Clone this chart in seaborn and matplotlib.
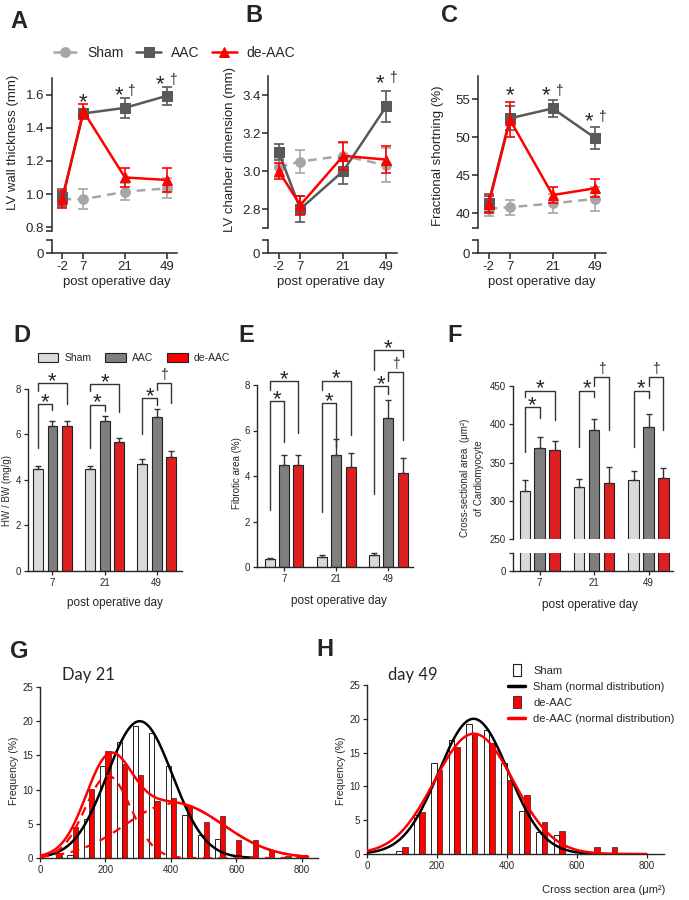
import numpy as np
import pandas as pd
import matplotlib
matplotlib.use("Agg")
import matplotlib.pyplot as plt
import seaborn as sns
from matplotlib.lines import Line2D
from matplotlib.patches import Patch

sns.set_style("ticks")
plt.rcParams["font.family"] = ["Liberation Sans", "DejaVu Sans"]
plt.rcParams["axes.linewidth"] = 1.0

# ---------------- data: echocardiography (A-C) ----------------
echo_days = ["-2", "7", "21", "49"]

wall_sham = [0.97, 0.968, 1.014, 1.034]
wall_sham_err = [0.05, 0.06, 0.05, 0.06]
wall_aac = [0.98, 1.486, 1.52, 1.592]
wall_aac_err = [0.05, 0.03, 0.06, 0.055]
wall_de = [0.968, 1.50, 1.10, 1.085]
wall_de_err = [0.05, 0.045, 0.06, 0.07]

ch_sham = [3.02, 3.05, 3.08, 3.03]
ch_sham_err = [0.05, 0.06, 0.07, 0.09]
ch_aac = [3.10, 2.80, 3.00, 3.34]
ch_aac_err = [0.04, 0.07, 0.07, 0.08]
ch_de = [3.00, 2.82, 3.08, 3.06]
ch_de_err = [0.04, 0.05, 0.075, 0.07]

fs_sham = [40.6, 40.8, 41.3, 41.9]
fs_sham_err = [0.9, 1.0, 1.2, 1.6]
fs_aac = [41.4, 52.5, 53.8, 49.9]
fs_aac_err = [1.2, 1.6, 1.1, 1.4]
fs_de = [41.2, 52.3, 42.4, 43.3]
fs_de_err = [1.1, 2.3, 1.0, 1.2]

# ---------------- data: bar panels (D-F) ----------------
bar_days = ["7", "21", "49"]
groups = ["Sham", "AAC", "de-AAC"]

hwbw_sham = [4.46, 4.47, 4.68]
hwbw_sham_err = [0.17, 0.16, 0.22]
hwbw_aac = [6.36, 6.57, 6.76]
hwbw_aac_err = [0.25, 0.25, 0.38]
hwbw_de = [6.35, 5.66, 5.01]
hwbw_de_err = [0.24, 0.20, 0.25]

fib_sham = [0.35, 0.45, 0.53]
fib_sham_err = [0.03, 0.07, 0.10]
fib_aac = [4.48, 4.92, 6.53]
fib_aac_err = [0.44, 0.69, 0.80]
fib_de = [4.48, 4.40, 4.13]
fib_de_err = [0.43, 0.60, 0.67]

csa_sham = [313.5, 318.0, 328.0]
csa_sham_err = [13.9, 11.0, 11.0]
csa_aac = [369.6, 392.6, 397.0]
csa_aac_err = [13.5, 14.0, 16.0]
csa_de = [366.5, 324.0, 330.0]
csa_de_err = [12.0, 20.0, 13.0]

# significance brackets: (day index, group a, group b, top, end a, end b, mark)
hwbw_marks = [(0, 0, 1, 7.34, 5.41, 7.06, "*"), (0, 0, 2, 8.26, 7.90, 7.36, "*"),
              (1, 0, 1, 7.31, 5.41, 7.03, "*"), (1, 0, 2, 8.23, 7.90, 7.00, "*"),
              (2, 0, 1, 7.60, 6.04, 7.31, "*"), (2, 1, 2, 8.26, 7.95, 7.40, "†")]
fib_marks = [(0, 0, 1, 7.30, 2.50, 5.50, "*"), (0, 0, 2, 8.18, 7.78, 5.88, "*"),
             (1, 0, 1, 7.19, 2.43, 5.29, "*"), (1, 0, 2, 8.19, 7.78, 5.80, "*"),
             (2, 0, 1, 7.96, 3.20, 7.60, "*"), (2, 1, 2, 8.59, 8.19, 5.58, "†"),
             (2, 0, 2, 9.54, 8.66, 9.22, "*")]
csa_marks = [(0, 0, 1, 422.2, 364.3, 407.8, "*"), (0, 0, 2, 443.9, 435.2, 405.7, "*"),
             (1, 0, 1, 443.9, 370.9, 435.2, "*"), (1, 1, 2, 462.2, 450.0, 392.6, "†"),
             (2, 0, 1, 443.9, 370.9, 433.9, "*"), (2, 1, 2, 462.2, 450.0, 392.6, "†")]

# ---------------- data: histograms (G-H) ----------------
hist_bins = [50, 100, 150, 200, 250, 300, 350, 400, 450, 500, 550, 600, 650, 700, 750, 800]
sham_freq = [0, 0.5, 5.7, 13.4, 16.9, 19.3, 18.3, 13.4, 6.3, 3.3, 2.8, 0, 0, 0, 0, 0]
deaac21_freq = [0.8, 4.6, 10.1, 15.6, 13.7, 12.1, 8.4, 8.8, 7.6, 5.3, 6.1, 2.6, 2.6, 1.1, 0.3, 0.4]
deaac49_freq = [0, 1.0, 6.2, 12.5, 15.8, 17.9, 16.4, 11.0, 8.7, 4.8, 3.4, 0, 1.0, 1.0, 0, 0]

# fitted gaussians: (amplitude %, mean, sd)
sham_fit = (20.0, 305, 100)
deaac21_fit_a = (12.0, 208, 70)
deaac21_fit_b = (8.0, 410, 150)
deaac49_fit = (17.8, 306, 113)

# ---------------- styling / layout ----------------
c_sham = "#A6A6A6"
c_aac = "#595959"
c_red = "#FF0000"
bar_palette = {"Sham": "#D9D9D9", "AAC": "#7F7F7F", "de-AAC": "#FF0000"}
echo_pos = [0, 1, 3, 5]
W, H = 689, 900

fig = plt.figure(figsize=(W / 100, H / 100), dpi=100)
fig.patch.set_facecolor("white")


def add_ax(x0, y0, x1, y1):
    return fig.add_axes([x0 / W, 1 - y1 / H, (x1 - x0) / W, (y1 - y0) / H])


def ftext(x, y, s, **kw):
    fig.text(x / W, 1 - y / H, s, **kw)


GLYPH_CENTER = {"*": 0.49, "†": 0.32}
GLYPH_SIZE = {"*": 16, "†": 10}


def put_marks(ax, x, y, label, dy=0.0):
    glyphs = [c for c in label if c != " "]
    n = len(glyphs)
    for i, g in enumerate(glyphs):
        dx = (i - (n - 1) / 2) * 9.0
        fs = GLYPH_SIZE[g]
        ax.annotate(g, xy=(x, y), xytext=(dx, dy - GLYPH_CENTER[g] * fs),
                    textcoords="offset points", ha="center", va="baseline",
                    fontsize=fs, annotation_clip=False)


def echo_panel(top_box, bot_box, ylim, yticks, fmt, sham, aac, de, marks):
    ax = add_ax(*top_box)
    axb = add_ax(*bot_box)
    series = [("Sham", sham, c_sham, "o", (0, (3.5, 2.5)), 2),
              ("AAC", aac, c_aac, "s", "-", 3),
              ("de-AAC", de, c_red, "^", "-", 4)]
    for name, (vals, errs), color, mk, ls, z in series:
        sns.lineplot(x=echo_pos, y=vals, ax=ax, color=color, marker=mk, markersize=7,
                     markeredgecolor=color, linestyle=ls, linewidth=1.8, label=name, zorder=z)
        ax.errorbar(echo_pos, vals, yerr=errs, fmt="none", ecolor=color, elinewidth=1.2,
                    capsize=3.5, capthick=1.2, zorder=z)
    handles, labels = ax.get_legend_handles_labels()
    ax.get_legend().remove()
    ax.set_xlim(-0.5, 5.5)
    ax.set_ylim(*ylim)
    ax.set_yticks([ylim[0]] + yticks)
    ax.set_yticklabels([""] + [fmt.format(t) for t in yticks])
    ax.spines[["top", "right", "bottom"]].set_visible(False)
    ax.tick_params(axis="x", bottom=False, labelbottom=False)
    ax.tick_params(axis="y", length=4, width=1.1, labelsize=9.5, pad=1.5)
    ax.spines["left"].set_linewidth(1.1)
    ax.set_xlabel("")
    ax.set_ylabel("")
    for x, y, s in marks:
        put_marks(ax, x, y, s)

    axb.set_xlim(-0.5, 5.5)
    axb.set_ylim(0, 1)
    axb.set_yticks([0, 1])
    axb.set_yticklabels(["0", ""])
    axb.set_xticks(echo_pos)
    axb.set_xticklabels(echo_days)
    axb.spines[["top", "right"]].set_visible(False)
    axb.spines["left"].set_linewidth(1.1)
    axb.spines["bottom"].set_linewidth(1.1)
    axb.tick_params(length=4, width=1.1, labelsize=9.5, pad=1.5)
    axb.patch.set_alpha(0)
    return handles, labels


# ---------------- row 1 ----------------
handles, labels = echo_panel((52, 78, 177, 230.5), (52, 240, 177, 253), (0.78, 1.7),
                             [0.8, 1.0, 1.2, 1.4, 1.6], "{:.1f}",
                             (wall_sham, wall_sham_err), (wall_aac, wall_aac_err),
                             (wall_de, wall_de_err),
                             [(1, 1.583, "*"), (3, 1.625, "* †"), (5, 1.69, "*†")])
echo_panel((268, 76, 397, 228), (268, 240, 397, 253), (2.7, 3.5),
           [2.8, 3.0, 3.2, 3.4], "{:.1f}",
           (ch_sham, ch_sham_err), (ch_aac, ch_aac_err), (ch_de, ch_de_err),
           [(5, 3.49, "* †")])
echo_panel((478, 76.5, 606, 228.5), (478, 240, 606, 253), (38, 58),
           [40, 45, 50, 55], "{:.0f}",
           (fs_sham, fs_sham_err), (fs_aac, fs_aac_err), (fs_de, fs_de_err),
           [(1, 56.2, "*"), (3, 56.2, "*†"), (5, 52.7, "* †")])

fig.legend(handles, labels, loc="center", bbox_to_anchor=(174 / W, 1 - 53 / H), ncol=3,
           frameon=False, fontsize=10, handlelength=1.8, handletextpad=0.7,
           columnspacing=0.9, borderpad=0)

ftext(13, 142, "LV wall thickness (mm)", rotation=90, ha="center", va="center", fontsize=9.5)
ftext(230, 150, "LV chanber dimension (mm)", rotation=90, ha="center", va="center", fontsize=9.5)
ftext(438, 156, "Fractional shortning (%)", rotation=90, ha="center", va="center", fontsize=9.5)
for xc in (117, 331, 542):
    ftext(xc, 282, "post operative day", ha="center", va="center", fontsize=9.5)

# ---------------- row 2 ----------------
offsets = (np.arange(3) - 1) * 0.82 / 3


def bar_panel(ax, sham, aac, de, ylim, yticks, show_err=True):
    df = pd.DataFrame({
        "day": bar_days * 3,
        "group": [g for g in groups for _ in bar_days],
        "value": sham[0] + aac[0] + de[0],
    })
    sns.barplot(data=df, x="day", y="value", hue="group", order=bar_days, hue_order=groups,
                palette=bar_palette, width=0.82, gap=0.3, errorbar=None,
                edgecolor="#222222", linewidth=0.8, legend=False, ax=ax)
    if show_err:
        for k, (vals, errs) in enumerate([sham, aac, de]):
            x = np.arange(3) + offsets[k]
            ax.errorbar(x, vals, yerr=[np.zeros(3), errs], fmt="none", ecolor="#333333",
                        elinewidth=1.0, capsize=2.3, capthick=1.0)
    ax.set_ylim(*ylim)
    ax.set_yticks(yticks)
    ax.set_xlabel("")
    ax.set_ylabel("")
    ax.spines[["top", "right"]].set_visible(False)
    ax.tick_params(length=3, width=0.9, labelsize=7, pad=2)


def draw_brackets(ax, specs):
    for day, g1, g2, top, e1, e2, s in specs:
        x1, x2 = day + offsets[g1], day + offsets[g2]
        ax.plot([x1, x1, x2, x2], [e1, top, top, e2], color="#333333", lw=1.0, clip_on=False)
        put_marks(ax, (x1 + x2) / 2, top, s, dy=5.0 if s == "*" else 6.0)


ax_d = add_ax(28, 389, 181.7, 570.7)
bar_panel(ax_d, (hwbw_sham, hwbw_sham_err), (hwbw_aac, hwbw_aac_err), (hwbw_de, hwbw_de_err),
          (0, 8), [0, 2, 4, 6, 8])
ax_d.set_xlim(-0.47, 2.48)
draw_brackets(ax_d, hwbw_marks)

ax_e = add_ax(257, 385, 413, 567)
bar_panel(ax_e, (fib_sham, fib_sham_err), (fib_aac, fib_aac_err), (fib_de, fib_de_err),
          (0, 8), [0, 2, 4, 6, 8])
ax_e.set_xlim(-0.52, 2.47)
draw_brackets(ax_e, fib_marks)

ax_f = add_ax(513, 386, 673, 539.3)
bar_panel(ax_f, (csa_sham, csa_sham_err), (csa_aac, csa_aac_err), (csa_de, csa_de_err),
          (250, 450), [250, 300, 350, 400, 450])
ax_f.set_xlim(-0.49, 2.45)
ax_f.spines["bottom"].set_visible(False)
ax_f.tick_params(axis="x", bottom=False, labelbottom=False)
draw_brackets(ax_f, csa_marks)

ax_f2 = add_ax(513, 553, 673, 571)
bar_panel(ax_f2, (csa_sham, csa_sham_err), (csa_aac, csa_aac_err), (csa_de, csa_de_err),
          (0, 20), [0, 20], show_err=False)
ax_f2.set_yticklabels(["0", ""])
ax_f2.set_xlim(-0.49, 2.45)

bar_handles = [Patch(facecolor=bar_palette[g], edgecolor="#222222", linewidth=0.8, label=g)
               for g in groups]
fig.legend(handles=bar_handles, loc="center", bbox_to_anchor=(134 / W, 1 - 358 / H), ncol=3,
           frameon=False, fontsize=7.5, handlelength=2.0, handleheight=0.9,
           handletextpad=0.6, columnspacing=1.3, borderpad=0)

ftext(7, 490, "HW / BW (mg/g)", rotation=90, ha="center", va="center", fontsize=7)
ftext(237, 473, "Fibrotic area (%)", rotation=90, ha="center", va="center", fontsize=7)
ftext(472, 478, "Cross-sectional area  (μm²)\nof Cardiomyocyte", rotation=90,
      ha="center", va="center", fontsize=7, multialignment="center", linespacing=1.5)
ftext(115, 603, "post operative day", ha="center", va="center", fontsize=8.5)
ftext(339, 601, "post operative day", ha="center", va="center", fontsize=8.5)
ftext(590, 605, "post operative day", ha="center", va="center", fontsize=8.5)


# ---------------- row 3 ----------------
def gauss(x, p):
    amp, mu, sd = p
    return amp * np.exp(-((x - mu) ** 2) / (2 * sd ** 2))


def hist_panel(ax, red_freq):
    b = np.array(hist_bins, dtype=float)
    ax.bar(b - 8, sham_freq, width=16, color="white", edgecolor="#222222", linewidth=0.7, zorder=2)
    ax.bar(b + 8, red_freq, width=16, color=c_red, edgecolor="#222222", linewidth=0.5, zorder=2)
    ax.set_xlim(0, 850)
    ax.set_ylim(0, 25)
    ax.set_xticks([0, 200, 400, 600, 800])
    ax.set_yticks([0, 5, 10, 15, 20, 25])
    ax.spines[["top", "right"]].set_visible(False)
    ax.tick_params(length=3, width=0.9, labelsize=7, pad=2)


ax_g = add_ax(40, 687, 318, 858)
hist_panel(ax_g, deaac21_freq)
xb = np.linspace(0, 650, 200)
xr = np.linspace(0, 820, 250)
sns.lineplot(x=xb, y=gauss(xb, sham_fit), ax=ax_g, color="black", lw=1.8, zorder=3)
sns.lineplot(x=xr, y=gauss(xr, deaac21_fit_a), ax=ax_g, color=c_red, lw=1.6,
             linestyle=(0, (4, 3)), zorder=3)
sns.lineplot(x=xr, y=gauss(xr, deaac21_fit_b), ax=ax_g, color=c_red, lw=1.6,
             linestyle=(0, (4, 3)), zorder=3)
sns.lineplot(x=xr, y=gauss(xr, deaac21_fit_a) + gauss(xr, deaac21_fit_b), ax=ax_g,
             color=c_red, lw=1.8, zorder=4)
ax_g.set_xlabel("")
ax_g.set_ylabel("")

ax_h = add_ax(367, 685, 664, 854)
hist_panel(ax_h, deaac49_freq)
xr2 = np.linspace(0, 800, 250)
sns.lineplot(x=xb, y=gauss(xb, sham_fit), ax=ax_h, color="black", lw=1.8, zorder=3)
sns.lineplot(x=xr2, y=gauss(xr2, deaac49_fit), ax=ax_h, color=c_red, lw=1.8, zorder=4)
ax_h.set_xlabel("")
ax_h.set_ylabel("")

rect = [(-0.35, -0.5), (0.35, -0.5), (0.35, 0.5), (-0.35, 0.5), (-0.35, -0.5)]
h_handles = [
    Line2D([0], [0], marker=rect, markersize=9, markerfacecolor="white",
           markeredgecolor="#222222", markeredgewidth=0.8, linestyle="none"),
    Line2D([0], [0], color="black", lw=2.5),
    Line2D([0], [0], marker=rect, markersize=9, markerfacecolor=c_red,
           markeredgecolor="#222222", markeredgewidth=0.6, linestyle="none"),
    Line2D([0], [0], color=c_red, lw=2.5),
]
h_labels = ["Sham", "Sham (normal distribution)", "de-AAC", "de-AAC (normal distribution)"]
ax_h.legend(h_handles, h_labels, loc="upper left", bbox_to_anchor=(508 / W, 1 - 666 / H),
            bbox_transform=fig.transFigure, frameon=False, fontsize=8, labelspacing=0.55,
            handlelength=1.55, handletextpad=0.7, borderaxespad=0, borderpad=0)

ftext(62, 675, "Day 21", ha="left", va="center", fontsize=12, family=["Lato", "DejaVu Sans"])
ftext(388, 675, "day 49", ha="left", va="center", fontsize=12, family=["Lato", "DejaVu Sans"])
ftext(14, 771, "Frequency (%)", rotation=90, ha="center", va="center", fontsize=7.5)
ftext(341, 771, "Frequency (%)", rotation=90, ha="center", va="center", fontsize=7.5)
ftext(665, 890, "Cross section area (μm²)", ha="right", va="center", fontsize=8)

# ---------------- panel letters ----------------
for x, y, s in [(10, 21, "A"), (245, 15, "B"), (441, 15, "C"),
                (13, 336, "D"), (238, 336, "E"), (447, 336, "F"),
                (10, 651, "G"), (316, 650, "H")]:
    ftext(x, y, s, ha="left", va="center", fontsize=17, fontweight="bold")

fig.savefig("out.png", dpi=100, facecolor="white")
